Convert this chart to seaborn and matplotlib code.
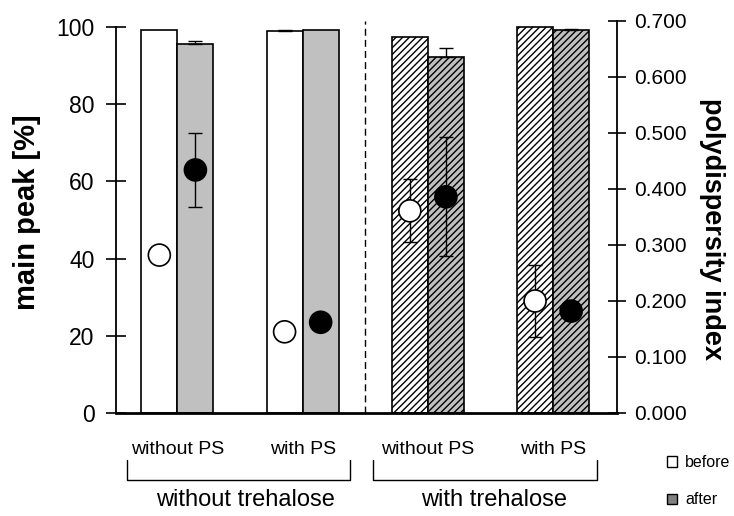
import numpy as np
import pandas as pd
import matplotlib
matplotlib.use("Agg")
import matplotlib.pyplot as plt
import seaborn as sns
from matplotlib.patches import Patch
from matplotlib.lines import Line2D

# ---------------- data ----------------
groups = ["without trehalose", "without trehalose", "with trehalose", "with trehalose"]
ps_labels = ["without PS", "with PS", "without PS", "with PS"]
conditions = [f"{g} / {p}" for g, p in zip(groups, ps_labels)]
states = ["before", "after"]

main_before = [99.2, 99.0, 97.5, 99.9]
main_before_err = [0.0, 0.2, 0.0, 0.0]
main_after = [95.7, 99.2, 92.3, 99.3]
main_after_err = [0.7, 0.0, 2.2, 0.2]

pdi_before = [0.282, 0.145, 0.361, 0.200]
pdi_before_err = [0.0, 0.0, 0.056, 0.064]
pdi_after = [0.434, 0.162, 0.386, 0.182]
pdi_after_err = [0.066, 0.0, 0.106, 0.0]

left_ticks = [0, 20, 40, 60, 80, 100]
right_ticks = [0.0, 0.1, 0.2, 0.3, 0.4, 0.5, 0.6, 0.7]

# ---------------- style ----------------
sns.set_style("ticks")
plt.rcParams["font.family"] = ["Liberation Sans", "DejaVu Sans"]
plt.rcParams["hatch.linewidth"] = 1.0
plt.rcParams["hatch.color"] = "black"
for k in ["text.color", "axes.labelcolor", "xtick.color", "ytick.color", "axes.edgecolor"]:
    plt.rcParams[k] = "black"

W, H = 734, 516
fig = plt.figure(figsize=(W / 100, H / 100), dpi=100)
ax = fig.add_axes([116 / W, 1 - 413 / H, (617 - 116) / W, (413 - 21) / H])

df = pd.DataFrame({
    "condition": conditions * 2,
    "state": ["before"] * 4 + ["after"] * 4,
    "main": main_before + main_after,
})

sns.barplot(data=df, x="condition", y="main", hue="state", order=conditions,
            hue_order=states, palette={"before": "white", "after": "#c0c0c0"},
            edgecolor="black", linewidth=1.2, width=0.576, gap=0,
            errorbar=None, legend=False, ax=ax, zorder=2)

# hatch trehalose groups
for cont in ax.containers:
    for i, g in enumerate(groups):
        if g == "with trehalose":
            cont[i].set_hatch("/////")

xb = [p.get_x() + p.get_width() / 2 for p in ax.containers[0]]
xa = [p.get_x() + p.get_width() / 2 for p in ax.containers[1]]

def up_err(axh, xs, ys, es):
    xs2 = [x for x, e in zip(xs, es) if e > 0]
    ys2 = [y for y, e in zip(ys, es) if e > 0]
    es2 = [e for e in es if e > 0]
    if xs2:
        axh.errorbar(xs2, ys2, yerr=[np.zeros(len(es2)), es2], fmt="none",
                     ecolor="black", elinewidth=1.0, capsize=5, capthick=1.0, zorder=3)

up_err(ax, xb, main_before, main_before_err)
up_err(ax, xa, main_after, main_after_err)

ax.set_xlim(-0.49, 3.51)
ax.set_ylim(0, 101.55)
ax.set_yticks(left_ticks)
ax.set_yticklabels([str(t) for t in left_ticks])
ax.set_xticks(range(4))
ax.set_xticklabels(ps_labels)
ax.set_xlabel("")
ax.set_ylabel("")
ax.tick_params(axis="y", direction="inout", length=15, width=1.2, labelsize=16.5, pad=8)
ax.tick_params(axis="x", length=0, labelsize=14, pad=20)
for s in ["top", "right"]:
    ax.spines[s].set_visible(False)
ax.spines["left"].set_bounds(0, 100)
ax.spines["left"].set_linewidth(1.3)
ax.spines["bottom"].set_linewidth(2.0)

ax.axvline(1.5, color="black", ls=(0, (5, 3)), lw=1.0, zorder=1)

# ---------------- PDI points ----------------
ax2 = ax.twinx()
ax2.set_ylim(0, 0.7)
ax2.errorbar(xb, pdi_before, yerr=pdi_before_err, fmt="none", ecolor="black",
             elinewidth=1.0, capsize=5, capthick=1.0, zorder=3)
ax2.errorbar(xa, pdi_after, yerr=pdi_after_err, fmt="none", ecolor="black",
             elinewidth=1.0, capsize=5, capthick=1.0, zorder=3)
pdf = pd.DataFrame({"x": xb + xa, "pdi": pdi_before + pdi_after,
                    "state": ["before"] * 4 + ["after"] * 4})
sns.scatterplot(data=pdf, x="x", y="pdi", hue="state", hue_order=states,
                palette={"before": "white", "after": "black"}, edgecolor="black",
                linewidth=1.2, s=250, legend=False, ax=ax2, zorder=4)
ax2.set_xlabel("")
ax2.set_ylabel("")
ax2.set_xlim(-0.49, 3.51)
ax2.set_yticks(right_ticks)
ax2.set_yticklabels([f"{t:.3f}" for t in right_ticks])
ax2.tick_params(axis="y", direction="inout", length=13, width=1.2, labelsize=15, pad=6)
for s in ["top", "left", "bottom"]:
    ax2.spines[s].set_visible(False)
ax2.spines["right"].set_linewidth(1.3)

# ---------------- labels ----------------
fig.text(27 / W, 1 - 212 / H, "main peak [%]", rotation=90, ha="center", va="center",
         fontsize=21, fontweight="bold")
fig.text(712 / W, 1 - 229 / H, "polydispersity index", rotation=-90, ha="center",
         va="center", fontsize=19.5, fontweight="bold")

def bracket(x0, x1):
    y0, y1 = 1 - 460 / H, 1 - 480 / H
    fig.add_artist(Line2D([x0 / W, x0 / W, x1 / W, x1 / W], [y0, y1, y1, y0],
                          color="black", lw=1.0, transform=fig.transFigure))

bracket(127, 350)
bracket(373, 597)
fig.text(245 / W, 1 - 500 / H, "without trehalose", ha="center", va="center", fontsize=17)
fig.text(494 / W, 1 - 500 / H, "with trehalose", ha="center", va="center", fontsize=17)

fig.legend(handles=[Patch(facecolor="white", edgecolor="black", label="before"),
                    Patch(facecolor="#808080", edgecolor="black", label="after")],
           loc="upper left", bbox_to_anchor=(667 / W, 1 - 455 / H), frameon=False,
           fontsize=11.5, handlelength=0.63, handleheight=0.63, labelspacing=1.4,
           handletextpad=0.5, borderaxespad=0, borderpad=0)

fig.savefig("out.png", dpi=100)
